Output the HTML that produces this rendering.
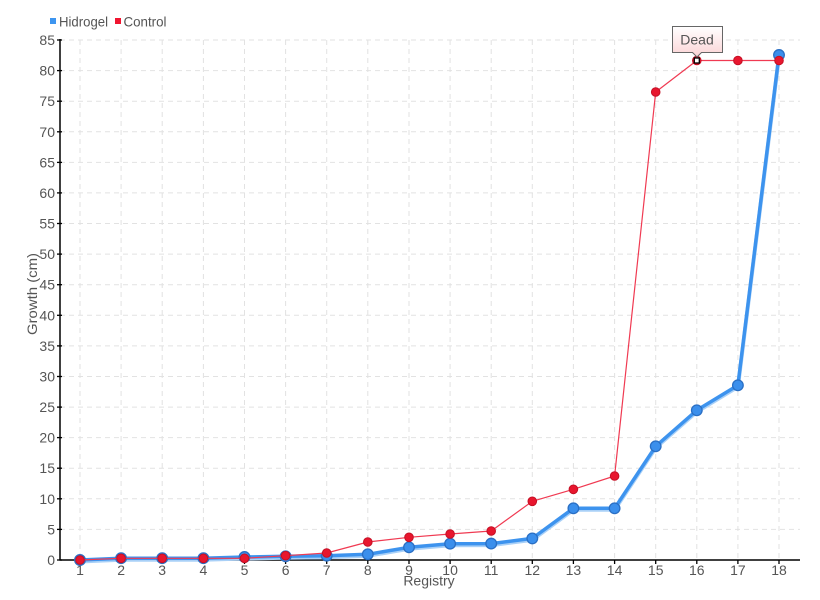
<!DOCTYPE html>
<html><head><meta charset="utf-8"><style>
html,body{margin:0;padding:0;background:#fff;}
svg{display:block;}
text{font-family:"Liberation Sans Narrow","Liberation Sans",sans-serif;fill:#555;}
</style></head><body>
<svg width="820" height="600" viewBox="0 0 820 600" xmlns="http://www.w3.org/2000/svg">
<defs>
<linearGradient id="tg" x1="0" y1="0" x2="0" y2="1">
<stop offset="0" stop-color="#ffffff"/><stop offset="1" stop-color="#fbd3d5"/>
</linearGradient>
</defs>
<!-- grid -->
<g stroke="#e2e2e2" stroke-width="1" stroke-dasharray="5,4" fill="none">
<line x1="60" x2="800" y1="529.4" y2="529.4"/><line x1="60" x2="800" y1="498.8" y2="498.8"/>
<line x1="60" x2="800" y1="468.2" y2="468.2"/><line x1="60" x2="800" y1="437.6" y2="437.6"/>
<line x1="60" x2="800" y1="407.1" y2="407.1"/><line x1="60" x2="800" y1="376.5" y2="376.5"/>
<line x1="60" x2="800" y1="345.9" y2="345.9"/><line x1="60" x2="800" y1="315.3" y2="315.3"/>
<line x1="60" x2="800" y1="284.7" y2="284.7"/><line x1="60" x2="800" y1="254.1" y2="254.1"/>
<line x1="60" x2="800" y1="223.5" y2="223.5"/><line x1="60" x2="800" y1="192.9" y2="192.9"/>
<line x1="60" x2="800" y1="162.4" y2="162.4"/><line x1="60" x2="800" y1="131.8" y2="131.8"/>
<line x1="60" x2="800" y1="101.2" y2="101.2"/><line x1="60" x2="800" y1="70.6" y2="70.6"/>
<line x1="60" x2="800" y1="40" y2="40"/>
<line y1="40" y2="560" x1="80" x2="80"/><line y1="40" y2="560" x1="121.1" x2="121.1"/>
<line y1="40" y2="560" x1="162.2" x2="162.2"/><line y1="40" y2="560" x1="203.4" x2="203.4"/>
<line y1="40" y2="560" x1="244.5" x2="244.5"/><line y1="40" y2="560" x1="285.6" x2="285.6"/>
<line y1="40" y2="560" x1="326.7" x2="326.7"/><line y1="40" y2="560" x1="367.8" x2="367.8"/>
<line y1="40" y2="560" x1="409" x2="409"/><line y1="40" y2="560" x1="450.1" x2="450.1"/>
<line y1="40" y2="560" x1="491.2" x2="491.2"/><line y1="40" y2="560" x1="532.3" x2="532.3"/>
<line y1="40" y2="560" x1="573.4" x2="573.4"/><line y1="40" y2="560" x1="614.6" x2="614.6"/>
<line y1="40" y2="560" x1="655.7" x2="655.7"/><line y1="40" y2="560" x1="696.8" x2="696.8"/>
<line y1="40" y2="560" x1="737.9" x2="737.9"/><line y1="40" y2="560" x1="779" x2="779"/>
</g>
<!-- axes -->
<g stroke="#000" stroke-width="1.5">
<line x1="60" y1="39" x2="60" y2="560.5"/>
<line x1="59.5" y1="560" x2="800" y2="560"/>
</g>
<g stroke="#000" stroke-width="1.3">
<line x1="57" x2="62" y1="529.4" y2="529.4"/><line x1="57" x2="62" y1="498.8" y2="498.8"/>
<line x1="57" x2="62" y1="468.2" y2="468.2"/><line x1="57" x2="62" y1="437.6" y2="437.6"/>
<line x1="57" x2="62" y1="407.1" y2="407.1"/><line x1="57" x2="62" y1="376.5" y2="376.5"/>
<line x1="57" x2="62" y1="345.9" y2="345.9"/><line x1="57" x2="62" y1="315.3" y2="315.3"/>
<line x1="57" x2="62" y1="284.7" y2="284.7"/><line x1="57" x2="62" y1="254.1" y2="254.1"/>
<line x1="57" x2="62" y1="223.5" y2="223.5"/><line x1="57" x2="62" y1="192.9" y2="192.9"/>
<line x1="57" x2="62" y1="162.4" y2="162.4"/><line x1="57" x2="62" y1="131.8" y2="131.8"/>
<line x1="57" x2="62" y1="101.2" y2="101.2"/><line x1="57" x2="62" y1="70.6" y2="70.6"/>
<line x1="57" x2="62" y1="40" y2="40"/><line x1="57" x2="62" y1="560" y2="560"/>
<line y1="560" y2="564" x1="80" x2="80"/><line y1="560" y2="564" x1="121.1" x2="121.1"/>
<line y1="560" y2="564" x1="162.2" x2="162.2"/><line y1="560" y2="564" x1="203.4" x2="203.4"/>
<line y1="560" y2="564" x1="244.5" x2="244.5"/><line y1="560" y2="564" x1="285.6" x2="285.6"/>
<line y1="560" y2="564" x1="326.7" x2="326.7"/><line y1="560" y2="564" x1="367.8" x2="367.8"/>
<line y1="560" y2="564" x1="409" x2="409"/><line y1="560" y2="564" x1="450.1" x2="450.1"/>
<line y1="560" y2="564" x1="491.2" x2="491.2"/><line y1="560" y2="564" x1="532.3" x2="532.3"/>
<line y1="560" y2="564" x1="573.4" x2="573.4"/><line y1="560" y2="564" x1="614.6" x2="614.6"/>
<line y1="560" y2="564" x1="655.7" x2="655.7"/><line y1="560" y2="564" x1="696.8" x2="696.8"/>
<line y1="560" y2="564" x1="737.9" x2="737.9"/><line y1="560" y2="564" x1="779" x2="779"/>
</g>
<!-- y labels -->
<g font-size="14" text-anchor="end">
<text x="55" y="565">0</text><text x="55" y="534.4">5</text><text x="55" y="503.8">10</text>
<text x="55" y="473.2">15</text><text x="55" y="442.6">20</text><text x="55" y="412.1">25</text>
<text x="55" y="381.5">30</text><text x="55" y="350.9">35</text><text x="55" y="320.3">40</text>
<text x="55" y="289.7">45</text><text x="55" y="259.1">50</text><text x="55" y="228.5">55</text>
<text x="55" y="197.9">60</text><text x="55" y="167.4">65</text><text x="55" y="136.8">70</text>
<text x="55" y="106.2">75</text><text x="55" y="75.6">80</text><text x="55" y="45">85</text>
</g>
<!-- x labels -->
<g font-size="14" text-anchor="middle">
<text x="80" y="575">1</text><text x="121.1" y="575">2</text><text x="162.2" y="575">3</text>
<text x="203.4" y="575">4</text><text x="244.5" y="575">5</text><text x="285.6" y="575">6</text>
<text x="326.7" y="575">7</text><text x="367.8" y="575">8</text><text x="409" y="575">9</text>
<text x="450.1" y="575">10</text><text x="491.2" y="575">11</text><text x="532.3" y="575">12</text>
<text x="573.4" y="575">13</text><text x="614.6" y="575">14</text><text x="655.7" y="575">15</text>
<text x="696.8" y="575">16</text><text x="737.9" y="575">17</text><text x="779" y="575">18</text>
</g>
<text x="429" y="585.5" font-size="14" text-anchor="middle">Registry</text>
<text transform="translate(37,294) rotate(-90)" font-size="14" text-anchor="middle" textLength="82" lengthAdjust="spacingAndGlyphs">Growth (cm)</text>
<!-- legend -->
<rect x="50" y="18" width="6" height="6" fill="#3d95f0"/>
<text x="59" y="26.5" font-size="14" textLength="49" lengthAdjust="spacingAndGlyphs">Hidrogel</text>
<rect x="115" y="18" width="6" height="6" fill="#f01530"/>
<text x="123.5" y="26.5" font-size="14" textLength="43" lengthAdjust="spacingAndGlyphs">Control</text>
<!-- Hidrogel series -->
<polyline fill="none" stroke="#a9d0f7" stroke-width="4" stroke-linejoin="round" transform="translate(0,1.5)"
points="80,560 121.1,558.2 162.2,558.2 203.4,558.2 244.5,557 285.6,556.3 326.7,555.7 367.8,554.3 409,547.3 450.1,543.7 491.2,543.6 532.3,538.4 573.4,508.3 614.6,508.3 655.7,446.3 696.8,410.3 737.9,385.3 779,55"/>
<polyline fill="none" stroke="#3d93ee" stroke-width="3.5" stroke-linejoin="round"
points="80,560 121.1,558.2 162.2,558.2 203.4,558.2 244.5,557 285.6,556.3 326.7,555.7 367.8,554.3 409,547.3 450.1,543.7 491.2,543.6 532.3,538.4 573.4,508.3 614.6,508.3 655.7,446.3 696.8,410.3 737.9,385.3 779,55"/>
<g fill="#3b8fec" stroke="#2a6fc4" stroke-width="1.3">
<circle cx="80" cy="560" r="5.3"/><circle cx="121.1" cy="558.2" r="5.3"/><circle cx="162.2" cy="558.2" r="5.3"/>
<circle cx="203.4" cy="558.2" r="5.3"/><circle cx="244.5" cy="557" r="5.3"/><circle cx="285.6" cy="556.3" r="5.3"/>
<circle cx="326.7" cy="555.7" r="5.3"/><circle cx="367.8" cy="554.3" r="5.3"/><circle cx="409" cy="547.3" r="5.3"/>
<circle cx="450.1" cy="543.7" r="5.3"/><circle cx="491.2" cy="543.6" r="5.3"/><circle cx="532.3" cy="538.4" r="5.3"/>
<circle cx="573.4" cy="508.3" r="5.3"/><circle cx="614.6" cy="508.3" r="5.3"/><circle cx="655.7" cy="446.3" r="5.3"/>
<circle cx="696.8" cy="410.3" r="5.3"/><circle cx="737.9" cy="385.3" r="5.3"/><circle cx="779" cy="55" r="5.3"/>
</g>
<!-- Control series -->
<polyline fill="none" stroke="#f03a52" stroke-width="1.2" stroke-linejoin="round"
points="80,560 121.1,558.3 162.2,558.3 203.4,558.3 244.5,558.3 285.6,555.7 326.7,553 367.8,542 409,537.3 450.1,534 491.2,531 532.3,501.3 573.4,489.3 614.6,476 655.7,92 696.8,60.5 737.9,60.5 779,60.5"/>
<g fill="#e8162e" stroke="#c51025" stroke-width="1">
<circle cx="80" cy="560" r="4.3"/><circle cx="121.1" cy="558.3" r="4.3"/><circle cx="162.2" cy="558.3" r="4.3"/>
<circle cx="203.4" cy="558.3" r="4.3"/><circle cx="244.5" cy="558.3" r="4.3"/><circle cx="285.6" cy="555.7" r="4.3"/>
<circle cx="326.7" cy="553" r="4.3"/><circle cx="367.8" cy="542" r="4.3"/><circle cx="409" cy="537.3" r="4.3"/>
<circle cx="450.1" cy="534" r="4.3"/><circle cx="491.2" cy="531" r="4.3"/><circle cx="532.3" cy="501.3" r="4.3"/>
<circle cx="573.4" cy="489.3" r="4.3"/><circle cx="614.6" cy="476" r="4.3"/><circle cx="655.7" cy="92" r="4.3"/>
<circle cx="696.8" cy="60.5" r="4.3"/><circle cx="737.9" cy="60.5" r="4.3"/><circle cx="779" cy="60.5" r="4.3"/>
</g>
<!-- hover marker -->
<rect x="694.3" y="58" width="5" height="5" fill="#fff" stroke="#000" stroke-width="1.3"/>
<!-- tooltip -->
<path d="M672.5,26.5 H722.5 V52.5 H701.5 L697,57 L692.5,52.5 H672.5 Z" fill="url(#tg)" stroke="#666" stroke-width="1"/>
<text x="697" y="44.5" font-size="14" text-anchor="middle">Dead</text>
</svg>
</body></html>
